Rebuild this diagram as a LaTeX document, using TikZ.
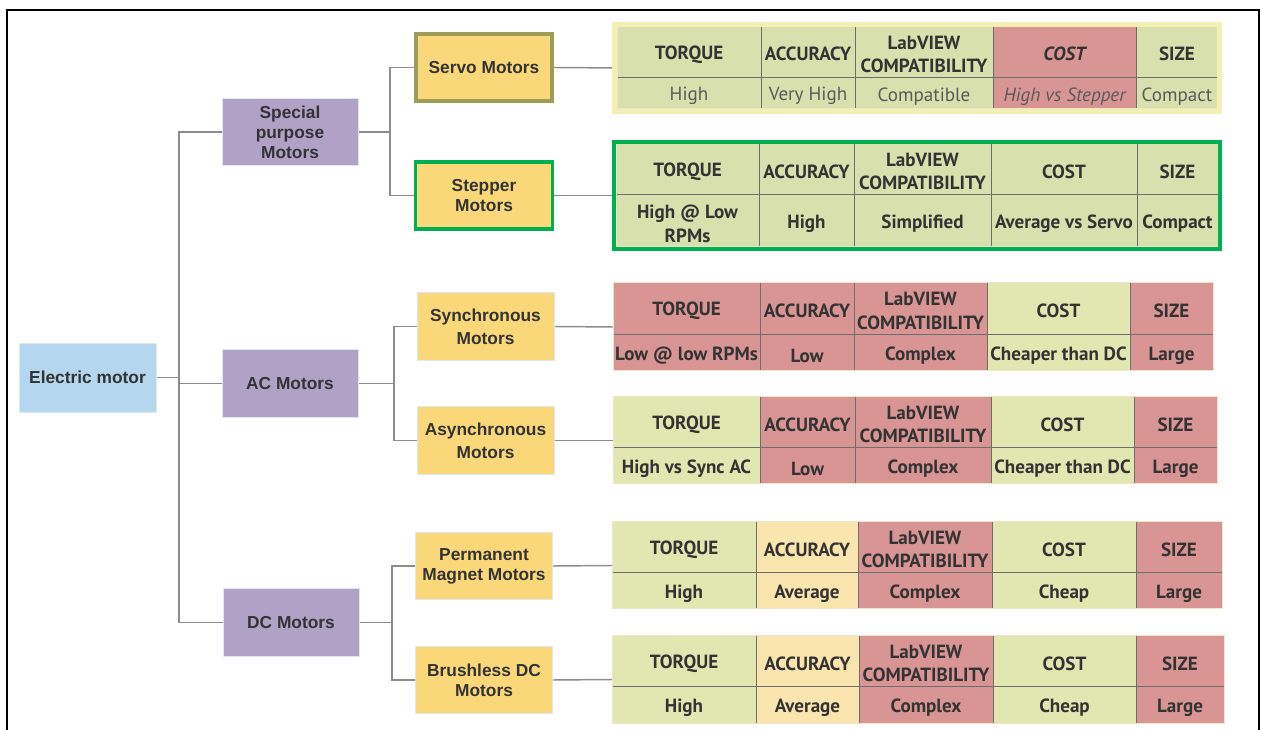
\documentclass[tikz,border=0pt]{standalone}
\usepackage{fontspec}
\newfontfamily\treefont{Liberation Sans}
\newfontfamily\tabfont{PT Sans}

\definecolor{ink}{RGB}{51,51,51}
\definecolor{valgray}{RGB}{90,90,90}
\definecolor{rootblue}{RGB}{180,214,238}
\definecolor{grouppurple}{RGB}{177,161,199}
\definecolor{motoryellow}{RGB}{250,216,122}
\definecolor{boxline}{RGB}{221,232,240}
\definecolor{linkgray}{RGB}{140,140,140}
\definecolor{olive}{RGB}{158,157,88}
\definecolor{pickgreen}{RGB}{0,176,80}
\definecolor{paleframe}{RGB}{244,240,180}
\definecolor{tgreen}{RGB}{216,225,174}
\definecolor{tlime}{RGB}{226,230,176}
\definecolor{tred}{RGB}{217,148,148}
\definecolor{tamber}{RGB}{251,229,174}
\definecolor{tabline}{RGB}{110,110,110}
\definecolor{tabcream}{RGB}{235,231,200}

\pgfdeclarelayer{bg}
\pgfsetlayers{bg,main}

% column titles, same in every table
\newcommand{\colhead}[1]{\ifcase#1\or TORQUE\or ACCURACY\or LabVIEW\\COMPATIBILITY\or COST\or SIZE\fi}

% #1 name, #2 left, #3 right, #4 top, #5 row split, #6 bottom, #7 value style, #8 columns
\newcommand{\spectable}[8]{%
	\foreach \xa/\xb/\cl/\vl/\st [count=\i] in {#8} {
		\fill[\cl] (\xa,#4) rectangle (\xb,#6);
		\node[hdr, \st] (#1h\i) at ({(\xa+\xb)/2},{(#4+#5)/2}) {\colhead{\i}};
		\node[#7, \st] (#1v\i) at ({(\xa+\xb)/2},{(#5+#6)/2}) {\vl};
		\ifnum\i>1 \draw[tabrule] (\xa,#4) -- (\xa,#6); \fi
	}
	\draw[tabrule] (#2,#5) -- (#3,#5);
	\draw[tabedge] (#2,#4) rectangle (#3,#6);
	\coordinate (#1) at (#2,{(#4+#6)/2});
}

\begin{document}
\begin{tikzpicture}[
		x=0.75pt, y=-0.75pt,
		box/.style={font=\treefont\fontsize{13}{15}\selectfont\bfseries, text=ink, align=center, inner sep=0pt, draw=boxline, line width=0.6pt},
		rootbox/.style={box, fill=rootblue, minimum width=102.75pt, minimum height=51.75pt},
		groupbox/.style={box, fill=grouppurple, minimum width=102pt, minimum height=50.5pt},
		motorbox/.style={box, fill=motoryellow, minimum width=102.75pt, minimum height=50.5pt},
		link/.style={draw=linkgray, line width=1.1pt},
		hdr/.style={font=\tabfont\fontsize{14.3}{17.5}\selectfont\bfseries, text=ink, align=center, inner sep=0pt, yshift=-1.5pt},
		lightval/.style={font=\tabfont\fontsize{14.3}{17.5}\selectfont, text=valgray, align=center, inner sep=0pt, yshift=-2.25pt},
		boldval/.style={hdr, yshift=-0.75pt},
		plainface/.style={},
		slantface/.style={execute at begin node=\itshape},
		tabrule/.style={draw=tabline, line width=0.75pt},
		tabedge/.style={draw=tabcream, line width=0.75pt},
	]
	\useasboundingbox (0,0) rectangle (1261,730);
	\draw[line width=1.5pt] (7,730) -- (7,10) -- (1259,10) -- (1259,730);

	% tree
	\node[rootbox] (root) at (87.5,377.5) {Electric motor};
	\node[groupbox] (special) at (290,132) {Special\\purpose\\Motors};
	\node[groupbox] (ac) at (290,383.5) {AC Motors};
	\node[groupbox] (dc) at (291,622.5) {DC Motors};
	\node[motorbox, draw=olive, line width=3pt, minimum width=102pt] (servo) at (484,67.5) {Servo Motors};
	\node[motorbox, draw=pickgreen, line width=2.6pt, minimum width=102.4pt] (stepper) at (484,195.5) {Stepper\\Motors};
	\node[motorbox] (sync) at (485.5,326.5) {Synchronous\\[2.25pt]Motors};
	\node[motorbox] (async) at (485.5,440.5) {Asynchronous\\[2.25pt]Motors};
	\node[motorbox] (pm) at (484,566) {Permanent\\Magnet Motors};
	\node[motorbox] (bldc) at (484,680) {Brushless DC\\Motors};

	% tables
	\spectable{tservo}{617}{1218}{27}{77.5}{109}{lightval}{617/761/tgreen/High/plainface, 761/855/tgreen/Very High/plainface, 855/993/tgreen/Compatible/plainface, 993/1136/tred/High vs Stepper/slantface, 1136/1218/tgreen/Compact/plainface}
	\draw[draw=paleframe, line width=3.75pt] (614.5,24.5) rectangle (1219.5,111.5);

	\spectable{tstepper}{616}{1218}{144}{195}{247}{boldval}{616/759/tgreen/High @ Low\\RPMs/plainface, 759/854/tgreen/High/plainface, 854/991/tgreen/Simplified/plainface, 991/1137/tgreen/Average vs Servo/plainface, 1137/1218/tgreen/Compact/plainface}
	\draw[draw=pickgreen, line width=3pt] (614,142) rectangle (1220,249);

	\spectable{tsync}{613}{1213}{283}{335}{371}{boldval}{613/760/tred/Low @ low RPMs/plainface, 760/854/tred/Low/plainface, 854/987/tred/Complex/plainface, 987/1130/tlime/Cheaper than DC/plainface, 1130/1213/tred/Large/plainface}

	\spectable{tasync}{613}{1217}{397}{448}{484}{boldval}{613/760/tlime/High vs Sync AC/plainface, 760/855/tred/Low/plainface, 855/991/tred/Complex/plainface, 991/1134/tlime/Cheaper than DC/plainface, 1134/1217/tred/Large/plainface}

	\spectable{tpm}{612}{1222}{522}{573}{609}{boldval}{612/756/tlime/High/plainface, 756/858/tamber/Average/plainface, 858/992/tred/Complex/plainface, 992/1136/tlime/Cheap/plainface, 1136/1222/tred/Large/plainface}

	\spectable{tbldc}{612}{1224}{636}{687}{723}{boldval}{612/756/tlime/High/plainface, 756/859/tamber/Average/plainface, 859/993/tred/Complex/plainface, 993/1136/tlime/Cheap/plainface, 1136/1224/tred/Large/plainface}

	% connectors
	\coordinate (trunk) at (179,0);
	\coordinate (spfork) at (390,0);
	\coordinate (acfork) at (394,0);
	\coordinate (dcfork) at (392,0);
	\begin{pgfonlayer}{bg}
		\draw[link] (root.east) -- (root.east -| trunk);
		\draw[link] (special.west) -- (special.west -| trunk) -- (dc.west -| trunk) -- (dc.west);
		\draw[link] (ac.west) -- (ac.west -| trunk);

		\draw[link] (special.east) -- (special.east -| spfork);
		\draw[link] (servo.west) -- (servo.west -| spfork) -- (stepper.west -| spfork) -- (stepper.west);
		\draw[link] (ac.east) -- (ac.east -| acfork);
		\draw[link] (sync.west) -- (sync.west -| acfork) -- (async.west -| acfork) -- (async.west);
		\draw[link] (dc.east) -- (dc.east -| dcfork);
		\draw[link] (pm.west) -- (pm.west -| dcfork) -- (bldc.west -| dcfork) -- (bldc.west);

		\draw[link] (servo.east) -- (tservo);
		\draw[link] (stepper.east) -- (tstepper);
		\draw[link] (sync.east) -- (tsync);
		\draw[link] (async.east) -- (tasync);
		\draw[link] (pm.east) -- (tpm);
		\draw[link] (bldc.east) -- (tbldc);
	\end{pgfonlayer}
\end{tikzpicture}
\end{document}
